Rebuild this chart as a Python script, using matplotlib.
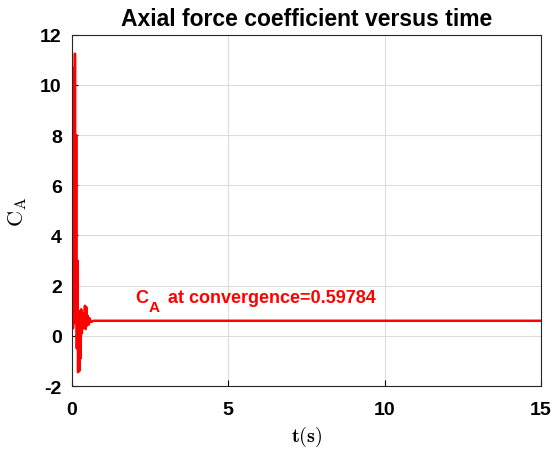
import numpy as np
import matplotlib
matplotlib.use("Agg")
import matplotlib.pyplot as plt

plt.rcParams['font.family'] = ['Liberation Sans', 'DejaVu Sans']
plt.rcParams['mathtext.fontset'] = 'cm'
plt.rcParams['axes.unicode_minus'] = False

time_s = [0, 0.02, 0.03, 0.05, 0.07, 0.09, 0.11, 0.13, 0.15, 0.17, 0.19,
          0.21, 0.23, 0.25, 0.27, 0.29, 0.31, 0.33, 0.35, 0.37, 0.39, 0.41,
          0.43, 0.45, 0.47, 0.49, 0.52, 0.55, 0.58, 0.62, 0.70, 15.0]
ca_vals = [0, 8.0, 10.7, 0.3, 9.5, 0.8, 11.25, 0.5, 8.0, -0.5, 3.0,
           -1.45, 1.0, -1.4, 0.8, -0.9, 1.06, 0.1, 0.9, 0.3, 0.8, 0.4,
           1.2, 0.27, 1.15, 0.4, 0.8, 0.45, 0.7, 0.55, 0.6, 0.6]
ca_conv = 0.59784

fig = plt.figure(figsize=(5.53, 4.52), dpi=100)
ax = fig.add_axes([0.1293, 0.1438, 0.849, 0.777])

ax.plot(time_s, ca_vals, color='red', lw=1.8)

# annotation: C, subscript A, then the rest
tx, ty = 2.03, 1.33
ax.annotate('C', (tx, ty), color='red', fontsize=13, fontweight='bold')
ax.annotate('A', (tx, ty), xytext=(9.5, -6), textcoords='offset points',
            color='red', fontsize=11, fontweight='bold')
ax.annotate('at convergence=' + str(ca_conv), (tx, ty), xytext=(23.5, 0),
            textcoords='offset points', color='red', fontsize=13, fontweight='bold')

ax.set_xlim(0, 15)
ax.set_ylim(-2, 12)
ax.set_xticks([0, 5, 10, 15])
ax.set_yticks(np.arange(-2, 13, 2))
ax.tick_params(direction='in', labelsize=14, length=4)
ax.tick_params(axis='x', pad=11)
ax.tick_params(axis='y', pad=7)
for lab in ax.get_xticklabels() + ax.get_yticklabels():
    lab.set_fontweight('bold')
ax.grid(True, color='#dcdcdc', lw=0.8)
ax.set_axisbelow(True)
for s in ax.spines.values():
    s.set_linewidth(0.8)
    s.set_color('#262626')

ax.set_title('Axial force coefficient versus time', fontsize=16.5, fontweight='bold', pad=7)
ax.set_xlabel(r'$\mathbf{t(s)}$', fontsize=14.5, labelpad=4)
ax.set_ylabel(r'$\mathrm{C_A}$', fontsize=16, labelpad=8)

fig.savefig('out.png', dpi=100)
